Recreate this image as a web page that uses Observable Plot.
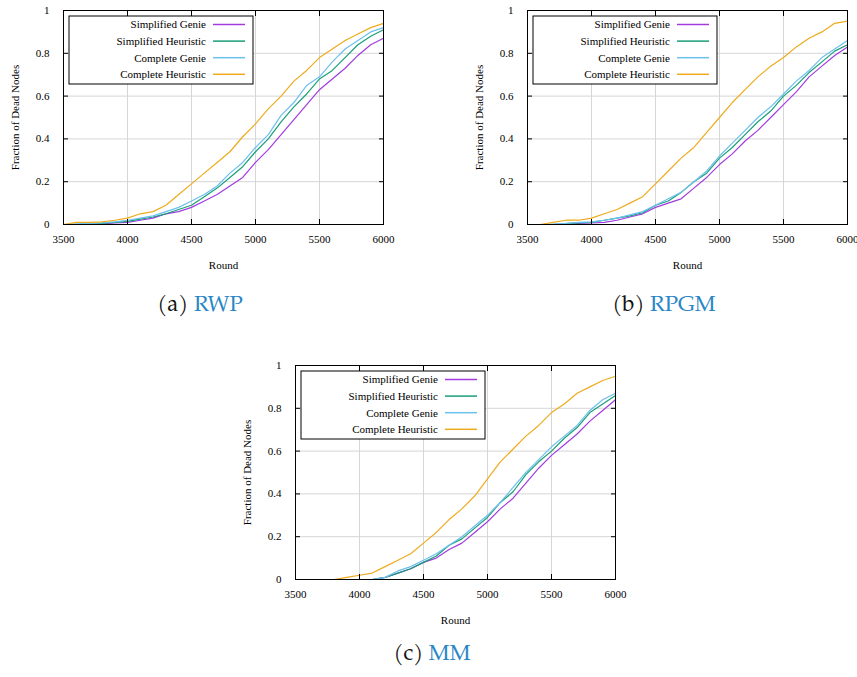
<!DOCTYPE html>
<html><head><meta charset="utf-8">
<script src="https://cdn.jsdelivr.net/npm/d3@7"></script>
<script src="https://cdn.jsdelivr.net/npm/@observablehq/plot@0.6"></script>
<style>
body{margin:0;background:#fff;}
#page{position:relative;width:857px;height:677px;overflow:hidden;background:#fff;}
.panel{position:absolute;width:400px;height:280px;}
.panel svg{max-width:none !important;}
.cap{position:absolute;font-family:"TeX Gyre Pagella","Liberation Serif",serif;font-size:22px;white-space:nowrap;transform:translateX(-50%);line-height:1;color:#111;}
.cap span{color:#2a86c6;}
</style></head><body><div id="page"></div>
<script>
const rounds = [3500,3600,3700,3800,3900,4000,4100,4200,4300,4400,4500,4600,4700,4800,4900,5000,5100,5200,5300,5400,5500,5600,5700,5800,5900,6000];
const seriesNames = ["Simplified Genie","Simplified Heuristic","Complete Genie","Complete Heuristic"];
const seriesColors = ["#a23be0","#1a9e7a","#6cc0ee","#eeab1c"];
const xTicks = [3500,4000,4500,5000,5500,6000];
const yTicks = [0,0.2,0.4,0.6,0.8,1];
const yTickLabels = ["0","0.2","0.4","0.6","0.8","1"];
const xLabel = "Round";
const yLabel = "Fraction of Dead Nodes";

// (a) RWP
const rwpSimplifiedGenie     = [0,0,0,0.003,0.007,0.01,0.02,0.03,0.05,0.06,0.08,0.11,0.14,0.18,0.22,0.29,0.35,0.42,0.49,0.56,0.63,0.68,0.73,0.79,0.84,0.87];
const rwpSimplifiedHeuristic = [0,0,0.002,0.005,0.01,0.015,0.025,0.035,0.05,0.07,0.09,0.13,0.17,0.22,0.27,0.34,0.40,0.48,0.55,0.61,0.68,0.72,0.78,0.84,0.88,0.91];
const rwpCompleteGenie       = [0,0.003,0.005,0.008,0.012,0.02,0.03,0.04,0.06,0.08,0.11,0.14,0.18,0.24,0.29,0.36,0.42,0.51,0.57,0.65,0.69,0.76,0.82,0.86,0.90,0.92];
const rwpCompleteHeuristic   = [0,0.01,0.01,0.012,0.02,0.03,0.05,0.06,0.09,0.14,0.19,0.24,0.29,0.34,0.41,0.47,0.54,0.60,0.67,0.72,0.78,0.82,0.86,0.89,0.92,0.94];

// (b) RPGM
const rpgmSimplifiedGenie     = [0,0,0,0.002,0.005,0.007,0.01,0.02,0.035,0.05,0.08,0.10,0.12,0.17,0.22,0.28,0.33,0.39,0.44,0.50,0.56,0.62,0.69,0.74,0.79,0.83];
const rpgmSimplifiedHeuristic = [0,0,0,0.004,0.008,0.01,0.02,0.03,0.04,0.055,0.09,0.11,0.15,0.20,0.24,0.31,0.36,0.42,0.48,0.53,0.60,0.65,0.71,0.76,0.81,0.84];
const rpgmCompleteGenie       = [0,0,0.002,0.005,0.01,0.012,0.02,0.03,0.045,0.06,0.09,0.12,0.15,0.20,0.25,0.32,0.38,0.44,0.50,0.55,0.61,0.67,0.72,0.78,0.82,0.86];
const rpgmCompleteHeuristic   = [0,0,0.01,0.02,0.02,0.03,0.05,0.07,0.10,0.13,0.19,0.25,0.31,0.36,0.43,0.50,0.57,0.63,0.69,0.74,0.78,0.83,0.87,0.90,0.94,0.95];

// (c) MM
const mmSimplifiedGenie     = [0,0,0,0,0,0,0,0.01,0.03,0.05,0.08,0.10,0.14,0.17,0.22,0.27,0.33,0.38,0.45,0.52,0.58,0.63,0.68,0.74,0.79,0.84];
const mmSimplifiedHeuristic = [0,0,0,0,0,0,0,0.01,0.03,0.05,0.08,0.11,0.16,0.19,0.24,0.29,0.36,0.41,0.49,0.55,0.60,0.66,0.71,0.78,0.82,0.86];
const mmCompleteGenie       = [0,0,0,0,0,0,0,0.01,0.04,0.06,0.09,0.12,0.16,0.20,0.25,0.30,0.36,0.43,0.50,0.56,0.62,0.67,0.72,0.79,0.84,0.87];
const mmCompleteHeuristic   = [0,0,0,0,0.01,0.02,0.03,0.06,0.09,0.12,0.17,0.22,0.28,0.33,0.39,0.47,0.55,0.61,0.67,0.72,0.78,0.82,0.87,0.90,0.93,0.95];

const panels = [
  {id:"a", name:"RWP",  left:0,   top:0,   capX:200, capY:295, series:[rwpSimplifiedGenie,rwpSimplifiedHeuristic,rwpCompleteGenie,rwpCompleteHeuristic]},
  {id:"b", name:"RPGM", left:464, top:0,   capX:664, capY:295, series:[rpgmSimplifiedGenie,rpgmSimplifiedHeuristic,rpgmCompleteGenie,rpgmCompleteHeuristic]},
  {id:"c", name:"MM",   left:232, top:355, capX:432, capY:644, series:[mmSimplifiedGenie,mmSimplifiedHeuristic,mmCompleteGenie,mmCompleteHeuristic]}
];

const FONT = '"Liberation Serif", "Times New Roman", serif';
const page = document.getElementById("page");
const M = {left:63, right:17, top:10, bottom:56};
const W = 400, H = 280;

for (const p of panels) {
  const data = [];
  p.series.forEach((vals, si) => rounds.forEach((r, i) => data.push({round:r, value:vals[i], series:seriesNames[si]})));
  const svg = Plot.plot({
    width: W, height: H,
    marginLeft: M.left, marginRight: M.right, marginTop: M.top, marginBottom: M.bottom,
    style: {fontFamily: FONT, fontSize: "11px", color: "#000", background: "transparent", overflow: "visible", maxWidth: "none"},
    x: {domain: [3500, 6000]},
    y: {domain: [0, 1]},
    color: {domain: seriesNames, range: seriesColors},
    marks: [
      Plot.gridX(xTicks, {stroke: "#d6d6d6", strokeOpacity: 1, strokeWidth: 1}),
      Plot.gridY(yTicks, {stroke: "#d6d6d6", strokeOpacity: 1, strokeWidth: 1}),
      Plot.line(data, {x: "round", y: "value", z: "series", stroke: "series", strokeWidth: 1.2}),
      Plot.frame({stroke: "#000", strokeWidth: 1}),
      Plot.axisX(xTicks, {anchor: "bottom", tickSize: -5, tickPadding: 16, tickFormat: d => String(d), label: xLabel, labelAnchor: "center", labelOffset: 44, labelArrow: false}),
      Plot.axisX(xTicks, {anchor: "top", tickSize: -5, tickFormat: () => "", label: null}),
      Plot.axisY(yTicks, {anchor: "left", tickSize: -5, tickPadding: 19, tickFormat: (d, i) => yTickLabels[i], label: yLabel, labelAnchor: "center", labelOffset: 52, labelArrow: false}),
      Plot.axisY(yTicks, {anchor: "right", tickSize: -5, tickFormat: () => "", label: null})
    ]
  });
  svg.style.fontFamily = FONT;
  svg.style.maxWidth = "none";
  // gnuplot-style key box
  const g = d3.select(svg).append("g").attr("transform", `translate(${M.left + 6},${M.top + 6})`);
  g.append("rect").attr("width", 184).attr("height", 68).attr("fill", "#fff").attr("stroke", "#000").attr("stroke-width", 1);
  seriesNames.forEach((name, i) => {
    const y = 8.5 + i * 16.6;
    g.append("text").attr("x", 137).attr("y", y).attr("dy", "0.35em").attr("text-anchor", "end")
      .style("font-family", FONT).attr("font-size", 11).attr("fill", "#000").text(name);
    g.append("line").attr("x1", 144).attr("x2", 176).attr("y1", y).attr("y2", y)
      .attr("stroke", seriesColors[i]).attr("stroke-width", 1.5);
  });
  const div = document.createElement("div");
  div.className = "panel";
  div.style.left = p.left + "px";
  div.style.top = p.top + "px";
  div.appendChild(svg);
  page.appendChild(div);

  const cap = document.createElement("div");
  cap.className = "cap";
  cap.style.left = p.capX + "px";
  cap.style.top = p.capY + "px";
  cap.innerHTML = `(${p.id}) <span>${p.name}</span>`;
  page.appendChild(cap);
}
</script></body></html>
